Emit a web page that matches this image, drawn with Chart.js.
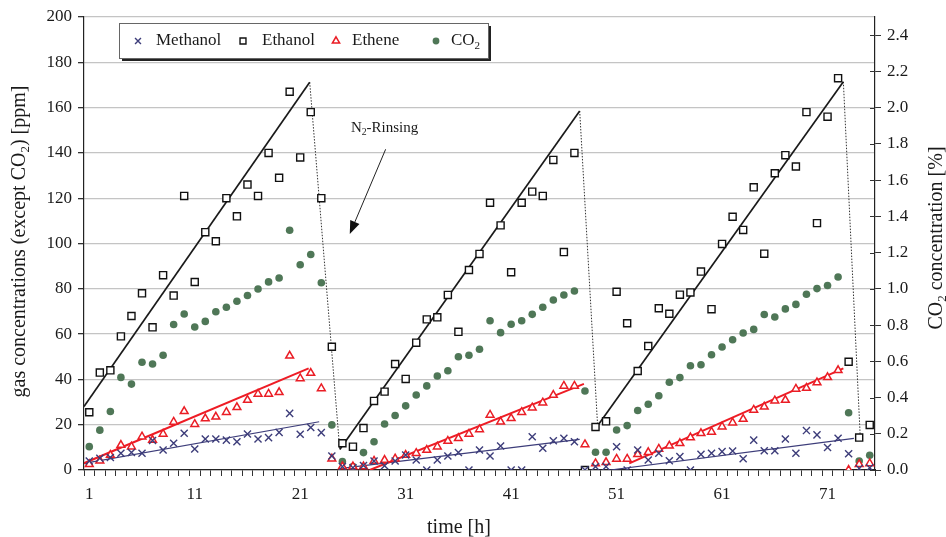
<!DOCTYPE html>
<html><head><meta charset="utf-8">
<script src="https://cdn.jsdelivr.net/npm/chart.js@4/dist/chart.umd.min.js"></script>
<style>html,body{margin:0;padding:0;background:#fff;}#wrap{width:946px;height:537px;position:relative;}</style>
</head><body><div id="wrap"><canvas id="c"></canvas></div>
<script>
// ---- data ----
const hours = Array.from({length: 75}, (_, i) => i + 1);
const methanol = [4.0,5.2,5.5,7.4,7.7,7.4,13,8.8,11.8,16.2,9.3,13.7,13.7,13.2,12.5,15.9,13.7,14.3,16.6,25,15.8,18.8,16.5,6.2,1.5,1,2,4,1.9,4,6.6,4.4,0,4.4,6.2,7.7,0,8.8,6.2,10.6,0,0,14.7,9.6,12.9,14,12.5,0,1.5,1.5,10.3,0,8.8,4.4,7.4,4.1,5.9,0,6.9,7.4,8.1,8.4,5,13.2,8.5,8.5,13.7,7.4,17.4,15.5,9.9,14,7.2,0.7,1];
const ethanol = [25.5,43,44,59,68,78,63,86,77,121,83,105,101,120,112,126,121,140,129,167,138,158,120,54.4,11.8,10.3,18.5,30.5,34.6,46.8,40.2,56.2,66.5,67.4,77.3,61,88.3,95.4,118,108,87.3,118,122.9,121,136.9,96.2,140,0,19,21.5,78.7,64.8,43.7,54.7,71.4,69,77.4,78.4,87.6,71,99.8,111.8,106,124.8,95.5,131,139,134,158,109,156,173,47.8,14.3,19.9];
const ethene = [2.5,4.1,6.6,11,10.3,14.7,13.2,15.9,21.2,25.9,20.2,22.7,23.5,25.5,27.7,30.9,33.6,33.6,34.3,50.4,40.4,42.8,36,5,1.5,1.5,1.5,4,4.4,5,6.6,7.4,8.8,10.3,12.8,14,15.9,17.9,24.3,21.3,22.8,25.5,27.5,29.7,33.1,37.1,37.1,11.3,2.9,3.4,4.9,4.9,6.9,7.8,9.3,10.7,11.8,14.3,16.2,16.8,19.1,20.9,22.5,26.5,27.9,30.6,30.9,35.8,36.2,38.6,40.9,44,0,2.5,2.9];
const co2 = [0.129,0.220,0.323,0.511,0.474,0.595,0.585,0.633,0.803,0.861,0.789,0.820,0.873,0.898,0.931,0.963,0.999,1.038,1.060,1.323,1.133,1.189,1.033,0.249,0.046,0.019,0.096,0.156,0.254,0.301,0.354,0.414,0.464,0.519,0.548,0.625,0.633,0.666,0.824,0.758,0.804,0.824,0.859,0.898,0.938,0.966,0.988,0.436,0.098,0.098,0.221,0.245,0.328,0.363,0.410,0.484,0.510,0.575,0.581,0.636,0.679,0.719,0.756,0.776,0.858,0.844,0.889,0.914,0.970,1.001,1.018,1.065,0.316,0.050,0.081];
// trend segments: [startHour, startValue, endHour, endValue]
const methanolTrend = [[0.5,2.9,22.8,21.3],[24.9,0.7,47.5,13.5],[50.4,0,73.5,14]];
const ethanolTrend  = [[0.5,28,21.9,171.2],[24.75,9.1,47.5,158.5],[49.2,19.5,72.5,171.4]];
const etheneTrend   = [[0.5,3,21.8,44.9],[27.6,0,47.9,38],[52.2,2.9,72.5,44.9]];
const ethanolRinse  = [[21.9,171.2,24.75,9.1],[47.5,158.5,49.2,19.5],[72.5,171.4,74.1,14.7]];
const xTickLabels = ['1','11','21','31','41','51','61','71'];
const leftTicks = [0,20,40,60,80,100,120,140,160,180,200];
const rightTicks = [0,0.2,0.4,0.6,0.8,1.0,1.2,1.4,1.6,1.8,2.0,2.2,2.4];

// ---- styling ----
const FONT = '"Liberation Serif", "Times New Roman", serif';
const C_MET = '#3d3d7a', C_ETH = '#111111', C_ETE = '#ea1d25', C_CO2 = '#4f7757';

const pts = arr => hours.map((h, i) => ({x: h, y: arr[i]}));
const segs = (list, color, width, dash, yAxis) => list.map(s => ({
  type: 'scatter', showLine: true, data: [{x: s[0], y: s[1]}, {x: s[2], y: s[3]}],
  borderColor: color, borderWidth: width, borderDash: dash || [], pointRadius: 0,
  pointHoverRadius: 0, yAxisID: yAxis || 'y', label: '_trend'
}));

const datasets = [
  {label: 'Methanol', data: pts(methanol), pointStyle: 'crossRot', pointRadius: 5, borderColor: C_MET, backgroundColor: C_MET, pointBorderWidth: 1.4, yAxisID: 'y'},
  {label: 'Ethanol', data: pts(ethanol), pointStyle: 'rect', pointRadius: 5, borderColor: C_ETH, backgroundColor: '#ffffff', pointBorderWidth: 1.4, yAxisID: 'y'},
  {label: 'Ethene', data: pts(ethene), pointStyle: 'triangle', pointRadius: 4.5, borderColor: C_ETE, backgroundColor: '#ffffff', pointBorderWidth: 1.5, yAxisID: 'y'},
  {label: 'CO2', data: pts(co2), pointStyle: 'circle', pointRadius: 3.8, borderColor: C_CO2, backgroundColor: C_CO2, pointBorderWidth: 0, yAxisID: 'y2'},
  ...segs(ethanolTrend, '#1a1a1a', 1.7),
  ...segs(etheneTrend, '#ee1c25', 2),
  ...segs(methanolTrend, '#3d3d7a', 1.2),
  ...segs(ethanolRinse, '#333333', 1, [1.5, 1.5]),
];

function rich(ctx, parts, x, y, size, align) {
  const widths = parts.map(p => { ctx.font = (p.sub ? size * 0.65 : size) + 'px ' + FONT; return ctx.measureText(p.t).width; });
  const total = widths.reduce((a, b) => a + b, 0);
  let cx = align === 'center' ? x - total / 2 : x;
  ctx.textBaseline = 'middle'; ctx.textAlign = 'left';
  parts.forEach((p, i) => {
    ctx.font = (p.sub ? size * 0.65 : size) + 'px ' + FONT;
    ctx.fillText(p.t, cx, p.sub ? y + size * 0.3 : y);
    cx += widths[i];
  });
}

const decor = {
  id: 'decor',
  afterDraw(chart) {
    const ctx = chart.ctx, xs = chart.scales.x, ys = chart.scales.y, y2 = chart.scales.y2, ca = chart.chartArea;
    ctx.save();
    // inner half of right-axis tick marks
    ctx.strokeStyle = '#333'; ctx.lineWidth = 1;
    rightTicks.forEach(v => { const py = Math.round(y2.getPixelForValue(v)) + 0.5; ctx.beginPath(); ctx.moveTo(ca.right - 5, py); ctx.lineTo(ca.right, py); ctx.stroke(); });
    ctx.fillStyle = '#1a1a1a';
    // axis titles
    rich(ctx, [{t: 'time [h]'}], 459, 528, 20, 'center');
    ctx.save(); ctx.translate(20, (ca.top + ca.bottom) / 2 - 2); ctx.rotate(-Math.PI / 2);
    rich(ctx, [{t: 'gas concentrations (except CO'}, {t: '2', sub: true}, {t: ') [ppm]'}], 0, 0, 20, 'center');
    ctx.restore();
    ctx.save(); ctx.translate(937, 238); ctx.rotate(-Math.PI / 2);
    rich(ctx, [{t: 'CO'}, {t: '2', sub: true}, {t: ' concentration [%]'}], 0, 0, 20, 'center');
    ctx.restore();
    // annotation
    rich(ctx, [{t: 'N'}, {t: '2', sub: true}, {t: '-Rinsing'}], xs.getPixelForValue(29.0), ys.getPixelForValue(151), 15, 'center');
    const ax0 = xs.getPixelForValue(29.1), ay0 = ys.getPixelForValue(141.6);
    const ax1 = xs.getPixelForValue(25.7), ay1 = ys.getPixelForValue(104.2);
    const ang = Math.atan2(ay1 - ay0, ax1 - ax0);
    ctx.strokeStyle = '#222'; ctx.lineWidth = 1;
    ctx.beginPath(); ctx.moveTo(ax0, ay0); ctx.lineTo(ax1 - 10 * Math.cos(ang), ay1 - 10 * Math.sin(ang)); ctx.stroke();
    ctx.beginPath(); ctx.moveTo(ax1, ay1);
    ctx.lineTo(ax1 - 13 * Math.cos(ang) + 5 * Math.sin(ang), ay1 - 13 * Math.sin(ang) - 5 * Math.cos(ang));
    ctx.lineTo(ax1 - 13 * Math.cos(ang) - 5 * Math.sin(ang), ay1 - 13 * Math.sin(ang) + 5 * Math.cos(ang));
    ctx.closePath(); ctx.fillStyle = '#111'; ctx.fill();
    // legend
    const L = 119, T = 23, W = 369, H = 35;
    ctx.fillStyle = '#222'; ctx.fillRect(L + 3, T + 3, W, H);
    ctx.fillStyle = '#fff'; ctx.fillRect(L, T, W, H);
    ctx.strokeStyle = '#666'; ctx.lineWidth = 1; ctx.strokeRect(L + 0.5, T + 0.5, W, H);
    const cy = T + 18;
    const items = [
      {mx: 138, tx: 156, ds: 0, parts: [{t: 'Methanol'}]},
      {mx: 243, tx: 262, ds: 1, parts: [{t: 'Ethanol'}]},
      {mx: 336, tx: 352, ds: 2, parts: [{t: 'Ethene'}]},
      {mx: 436, tx: 451, ds: 3, parts: [{t: 'CO'}, {t: '2', sub: true}]},
    ];
    items.forEach(it => {
      const d = chart.data.datasets[it.ds];
      ctx.strokeStyle = d.borderColor; ctx.fillStyle = d.backgroundColor; ctx.lineWidth = d.pointBorderWidth || 1;
      Chart.helpers.drawPoint(ctx, {pointStyle: d.pointStyle, radius: it.ds === 3 ? 3.4 : 4.2, rotation: 0, borderWidth: d.pointBorderWidth}, it.mx, cy);
      ctx.fillStyle = '#1a1a1a';
      rich(ctx, it.parts, it.tx, cy, 17, 'left');
    });
    ctx.restore();
  }
};

const tickFont = {family: FONT, size: 17};
new Chart(document.getElementById('c'), {
  type: 'scatter',
  data: {datasets},
  options: {
    responsive: true, maintainAspectRatio: false, animation: false,
    layout: {padding: {top: 17, left: 0, right: 0, bottom: 0}},
    plugins: {legend: {display: false}, tooltip: {enabled: false}},
    scales: {
      x: {
        type: 'linear', min: 0.5, max: 75.5,
        afterBuildTicks: s => { s.ticks = Array.from({length: 76}, (_, i) => ({value: 0.5 + i})); },
        afterFit: s => { s.height = 67; },
        ticks: {autoSkip: false, maxRotation: 0, minRotation: 0, labelOffset: 5.27, padding: 8, color: '#1a1a1a', font: tickFont,
          callback: v => { const h = String(Math.round(v + 0.5)); return xTickLabels.includes(h) ? h : ''; }},
        grid: {drawOnChartArea: false, drawTicks: true, tickLength: 6, color: '#333', tickColor: '#333'},
        border: {color: '#222', width: 1.2}
      },
      y: {
        position: 'left', min: 0, max: 200,
        afterBuildTicks: s => { s.ticks = leftTicks.map(v => ({value: v})); },
        afterFit: s => { s.width = 84; },
        ticks: {padding: 6, color: '#1a1a1a', font: tickFont},
        grid: {color: '#c4c4c4', lineWidth: 1.3, tickLength: 6, tickColor: '#333'},
        border: {color: '#222', width: 1.2}
      },
      y2: {
        position: 'right', min: 0, max: 2.5,
        afterBuildTicks: s => { s.ticks = rightTicks.map(v => ({value: v})); },
        afterFit: s => { s.width = 71; },
        ticks: {padding: 6, color: '#1a1a1a', font: tickFont, callback: v => v.toFixed(1)},
        grid: {drawOnChartArea: false, tickLength: 6, color: '#333', tickColor: '#333'},
        border: {color: '#222', width: 1.2}
      }
    }
  },
  plugins: [decor]
});
</script></body></html>
